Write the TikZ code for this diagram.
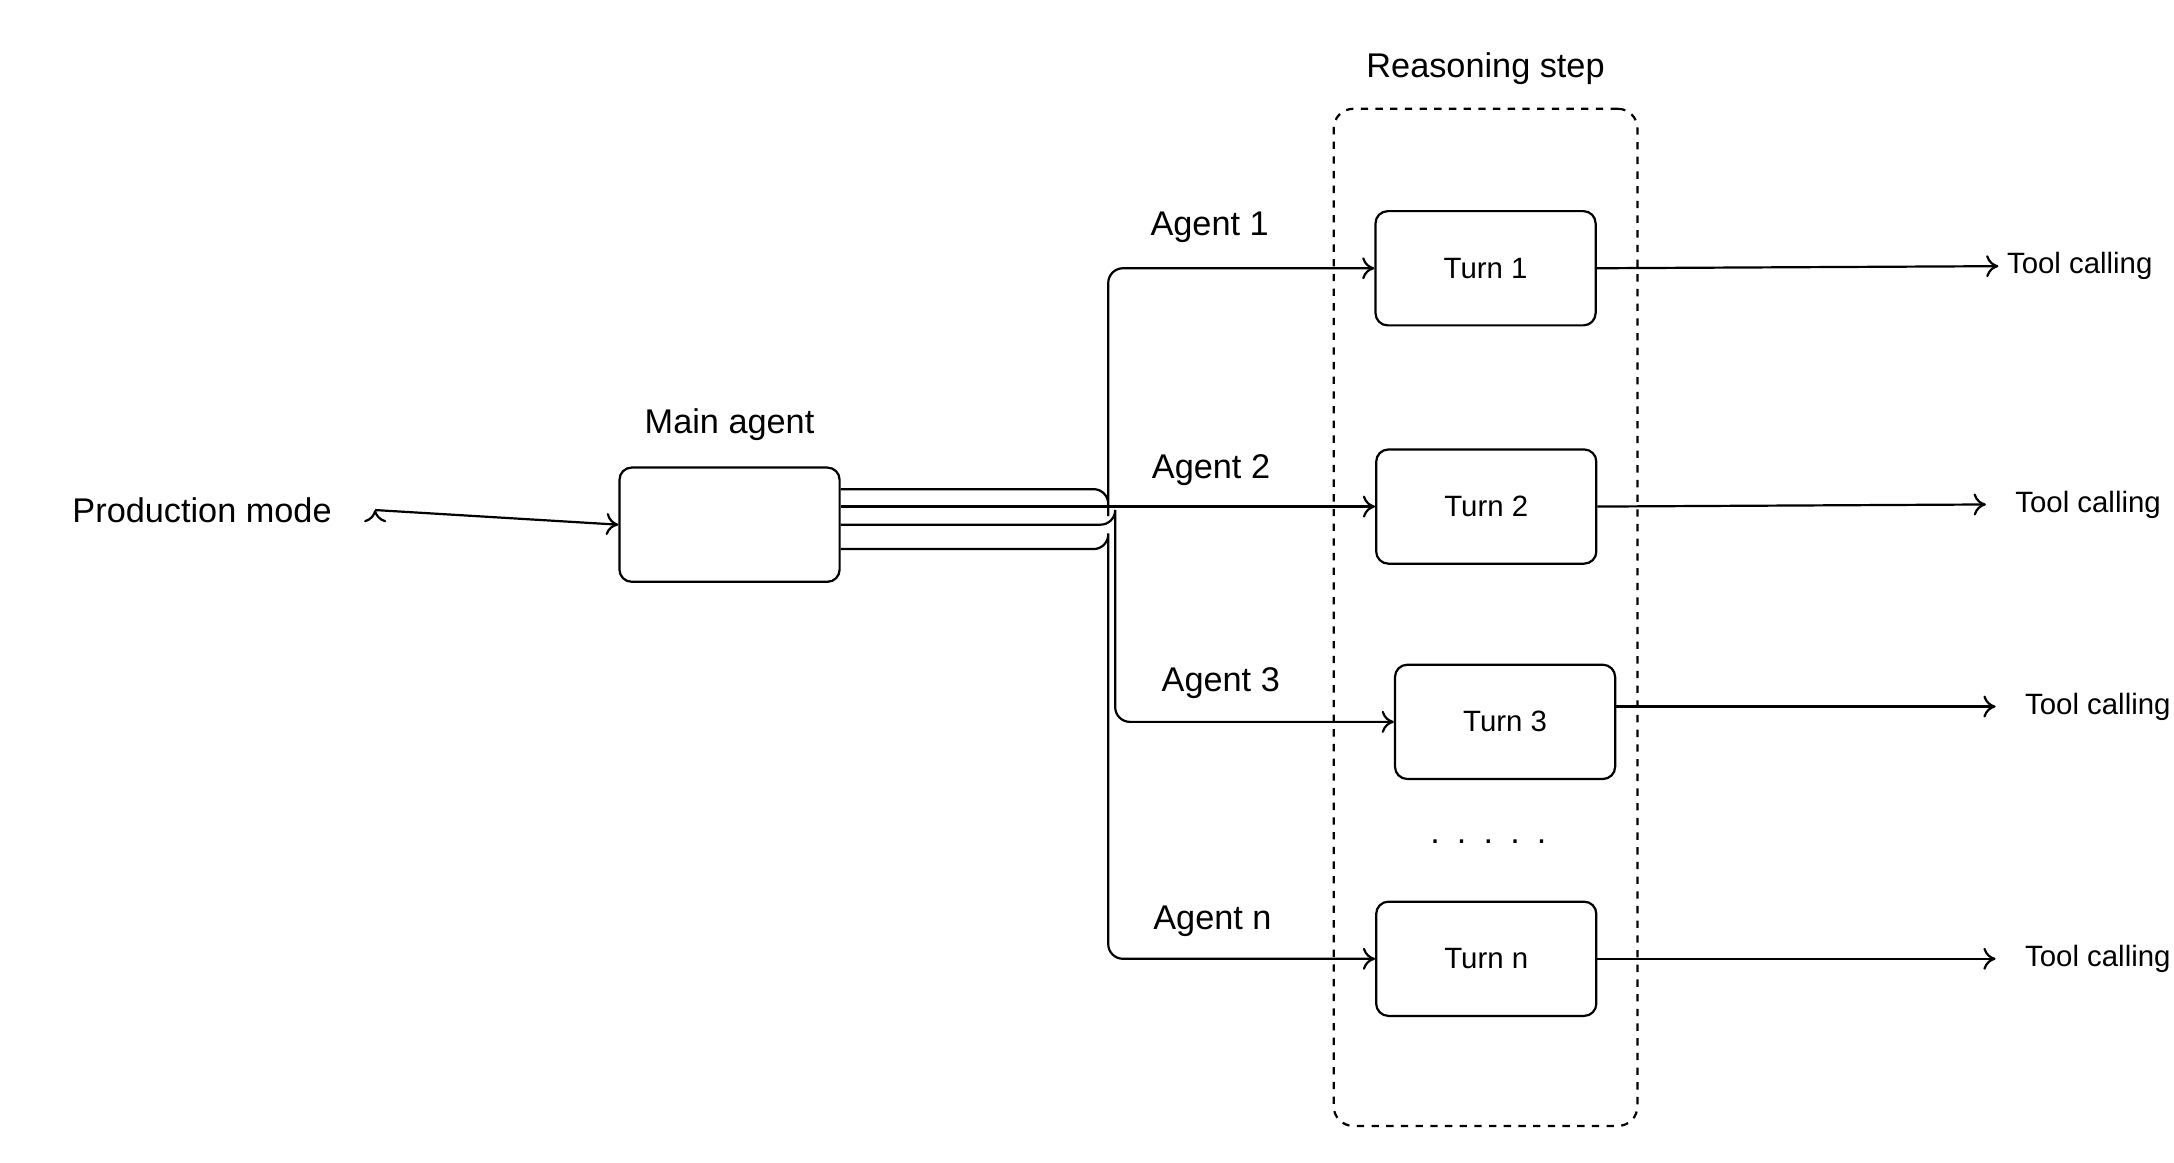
\documentclass[tikz,border=0pt]{standalone}
\usepackage{fontspec}
\setmainfont{Liberation Sans}
\usetikzlibrary{positioning,calc,arrows.meta}

\tikzset{
  box/.style={draw, rounded corners=5pt, line width=0.9pt, minimum width=3.16cm, minimum height=1.64cm, font=\fontsize{12}{14}\selectfont},
  conn/.style={line width=0.9pt, -{To[length=5pt,width=9pt]}, rounded corners=6pt},
  lbl/.style={font=\fontsize{14}{16}\selectfont},
  small/.style={font=\fontsize{12}{14}\selectfont}
}

\begin{document}
\begin{tikzpicture}[x=0.02cm, y=-0.02cm]
	\useasboundingbox (0,0) rectangle (1560,834);
	% linke seite
	\node[lbl] (prod) at (145,366) {Production mode};
	\node[box] (main) at (523.5,376.5) {};
	\node[lbl, above=0.25cm of main] (mainlbl) {Main agent};
	\draw[conn] (prod.east) ++(0.5cm,0) coordinate (pstart);
	\draw[conn] (pstart) -- (main.west);
	% reasoning step
	\node[draw, dashed, line width=0.9pt, rounded corners=8pt, minimum width=4.36cm, minimum height=14.6cm] (reason) at (1066,443) {};
	\node[lbl, above=0.2cm of reason] (reasonlbl) {Reasoning step};
	% turns
	\node[box] (t1) at (1066,192.5) {Turn 1};
	\node[box] (t2) at (1066.5,363.5) {Turn 2};
	\node[box] (t3) at (1080,518) {Turn 3};
	\node[box] (tn) at (1066.5,688) {Turn n};
	\node[lbl] (dots) at (1068,604) {.\enspace.\enspace.\enspace.\enspace.};
	% agents
	\node[lbl] (a1) at (868,163) {Agent 1};
	\node[lbl] (a2) at (869,337) {Agent 2};
	\node[lbl] (a3) at (876,490) {Agent 3};
	\node[lbl] (an) at (870,661) {Agent n};
	% verbindungen
	\draw[conn] ([yshift=0.51cm]main.east) -| ([xshift=3.84cm]main.east) |- (t1.west);
	\draw[conn] (t2.west -| main.east) -- (t2.west);
	\draw[conn] (main.east) -| ([xshift=3.94cm]main.east) |- (t3.west);
	\draw[conn] ([yshift=-0.35cm]main.east) -| ([xshift=3.84cm]main.east) |- (tn.west);
	% tool calling
	\node[small, anchor=west] (tc1) at (1434,191) {Tool calling};
	\node[small, anchor=west] (tc2) at (1440,362) {Tool calling};
	\node[small, anchor=west] (tc3) at (1447,507) {Tool calling};
	\node[small, anchor=west] (tcn) at (1447,688) {Tool calling};
	\draw[conn] (t1.east) -- (tc1.west);
	\draw[conn] (t2.east) -- ([xshift=-0.3cm]tc2.west);
	\draw[conn] (t3.east |- tc3.west) -- ([xshift=-0.3cm]tc3.west);
	\draw[conn] (tn.east) -- ([xshift=-0.3cm]tcn.west);
\end{tikzpicture}
\end{document}
